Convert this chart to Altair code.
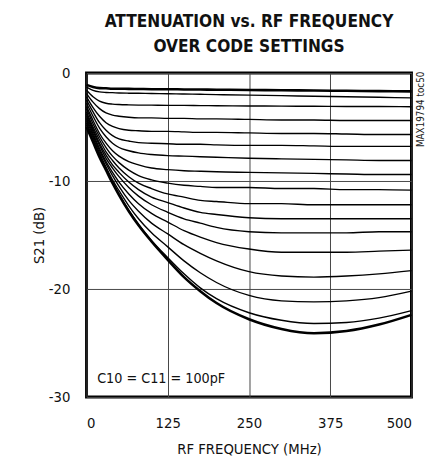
import altair as alt
import pandas as pd

# Frequency sample points (MHz)
FREQS = [0, 10, 20, 30, 40, 50, 65, 80, 100, 125, 150, 175, 200, 250, 300, 350, 400, 450, 500]

# S21 (dB) for each code setting, top to bottom
S01 = [-1.1, -1.3, -1.4, -1.42, -1.45, -1.45, -1.47, -1.48, -1.5, -1.5, -1.52, -1.53, -1.55, -1.57, -1.6, -1.62, -1.65, -1.68, -1.7]
S02 = [-1.3, -1.6, -1.75, -1.8, -1.82, -1.85, -1.87, -1.88, -1.9, -1.92, -1.95, -1.97, -2.0, -2.05, -2.1, -2.15, -2.2, -2.25, -2.3]
S03 = [-1.6, -2.2, -2.6, -2.8, -2.88, -2.92, -2.95, -2.97, -2.98, -3.0, -3.0, -3.02, -3.03, -3.05, -3.07, -3.08, -3.1, -3.1, -3.12]
S04 = [-1.9, -2.7, -3.3, -3.7, -3.9, -4.0, -4.1, -4.15, -4.15, -4.2, -4.2, -4.25, -4.25, -4.3, -4.35, -4.35, -4.4, -4.4, -4.4]
S05 = [-2.2, -3.2, -4.0, -4.6, -4.95, -5.15, -5.3, -5.35, -5.4, -5.4, -5.45, -5.5, -5.5, -5.55, -5.6, -5.6, -5.65, -5.7, -5.7]
S06 = [-2.5, -3.6, -4.6, -5.3, -5.8, -6.1, -6.3, -6.45, -6.5, -6.55, -6.6, -6.6, -6.65, -6.7, -6.7, -6.75, -6.8, -6.8, -6.8]
S07 = [-2.8, -4.0, -5.1, -5.9, -6.5, -6.9, -7.2, -7.4, -7.55, -7.65, -7.7, -7.75, -7.8, -7.9, -7.95, -8.0, -8.05, -8.1, -8.1]
S08 = [-3.1, -4.4, -5.6, -6.5, -7.2, -7.7, -8.2, -8.5, -8.8, -8.95, -9.05, -9.1, -9.15, -9.2, -9.25, -9.3, -9.35, -9.4, -9.4]
S09 = [-3.3, -4.7, -5.9, -6.9, -7.7, -8.3, -9.0, -9.5, -9.9, -10.2, -10.4, -10.5, -10.6, -10.6, -10.7, -10.7, -10.8, -10.8, -10.85]
S10 = [-3.6, -5.0, -6.2, -7.3, -8.1, -8.8, -9.6, -10.2, -10.7, -11.2, -11.5, -11.8, -11.9, -12.1, -12.1, -12.2, -12.2, -12.2, -12.2]
S11 = [-3.8, -5.2, -6.5, -7.6, -8.5, -9.2, -10.1, -10.8, -11.5, -12.0, -12.5, -12.9, -13.1, -13.4, -13.5, -13.5, -13.5, -13.5, -13.5]
S12 = [-4.0, -5.4, -6.7, -7.9, -8.8, -9.6, -10.6, -11.4, -12.2, -12.9, -13.5, -13.9, -14.3, -14.7, -14.8, -14.8, -14.8, -14.7, -14.7]
S13 = [-4.2, -5.6, -7.0, -8.2, -9.2, -10.1, -11.2, -12.1, -13.0, -13.8, -14.6, -15.2, -15.7, -16.3, -16.6, -16.6, -16.6, -16.5, -16.4]
S14 = [-4.4, -5.8, -7.2, -8.4, -9.5, -10.5, -11.8, -12.8, -13.9, -14.9, -15.9, -16.7, -17.4, -18.4, -18.8, -18.9, -18.8, -18.6, -18.3]
S15 = [-4.6, -6.0, -7.4, -8.7, -9.9, -10.9, -12.3, -13.5, -14.8, -16.1, -17.4, -18.5, -19.4, -20.6, -21.1, -21.2, -21.1, -20.8, -20.2]
S16 = [-4.8, -6.2, -7.6, -8.9, -10.1, -11.2, -12.7, -14.0, -15.5, -17.1, -18.6, -19.9, -20.9, -22.2, -22.9, -23.2, -23.1, -22.7, -22.0]
S17 = [-5.0, -6.4, -7.8, -9.0, -10.2, -11.3, -12.8, -14.1, -15.6, -17.3, -18.9, -20.2, -21.3, -22.8, -23.7, -24.1, -23.9, -23.3, -22.4]

SERIES = [S01, S02, S03, S04, S05, S06, S07, S08, S09, S10, S11, S12, S13, S14, S15, S16, S17]
THICK = {0, 16}

rows = []
for i, s in enumerate(SERIES):
    for f, v in zip(FREQS, s):
        rows.append({"freq": f, "s21": v, "code": f"c{i+1:02d}", "w": 2.6 if i in THICK else 1.4})
df = pd.DataFrame(rows)

FONT = "DejaVu Sans Condensed, Liberation Sans, sans-serif"

x = alt.X("freq:Q", scale=alt.Scale(domain=[0, 500], nice=False),
          axis=alt.Axis(values=[0, 125, 250, 375, 500], title="RF FREQUENCY (MHz)",
                        grid=True, gridColor="#444", gridWidth=1, domain=False, ticks=False,
                        labelPadding=19, titlePadding=12, labelFont=FONT, labelFontSize=15,
                        titleFont=FONT, titleFontSize=15, titleFontWeight="normal",
                        labelColor="#111", titleColor="#111"))
y = alt.Y("s21:Q", scale=alt.Scale(domain=[-30, 0], nice=False),
          axis=alt.Axis(values=[0, -10, -20, -30], title="S21 (dB)", labelExpr="toString(datum.value)",
                        grid=True, gridColor="#444", gridWidth=1, domain=False, ticks=False,
                        labelPadding=17, titlePadding=2, labelFont=FONT, labelFontSize=15,
                        titleFont=FONT, titleFontSize=15, titleFontWeight="normal",
                        labelColor="#111", titleColor="#111"))

lines = alt.Chart(df).mark_line(color="black", interpolate="monotone").encode(
    x=x, y=y, detail="code:N", strokeWidth=alt.StrokeWidth("w:Q", scale=None)
)

note = alt.Chart(pd.DataFrame({"t": ["C10 = C11 = 100pF"]})).mark_text(
    font=FONT, fontSize=14.5, color="#111", align="center", baseline="middle"
).encode(text="t:N", x=alt.value(76), y=alt.value(312))

side = alt.Chart(pd.DataFrame({"t": ["MAX19794 toc50"]})).mark_text(
    font=FONT, fontSize=10, color="#222", angle=270, align="center", baseline="middle"
).encode(text="t:N", x=alt.value(341), y=alt.value(37))

chart = alt.layer(lines, note, side).properties(
    width=331, height=330,
    autosize=alt.AutoSizeParams(type="none"),
    padding={"left": 80, "top": 62, "right": 26, "bottom": 60},
    title=alt.TitleParams(["ATTENUATION vs. RF FREQUENCY", "OVER CODE SETTINGS"],
                          font=FONT, fontSize=17.5, fontWeight="bold", color="#111",
                          anchor="middle", offset=11, lineHeight=25)
).configure_view(stroke="black", strokeWidth=3)

chart.save("out.html", embed_options={"renderer": "svg", "actions": False})
